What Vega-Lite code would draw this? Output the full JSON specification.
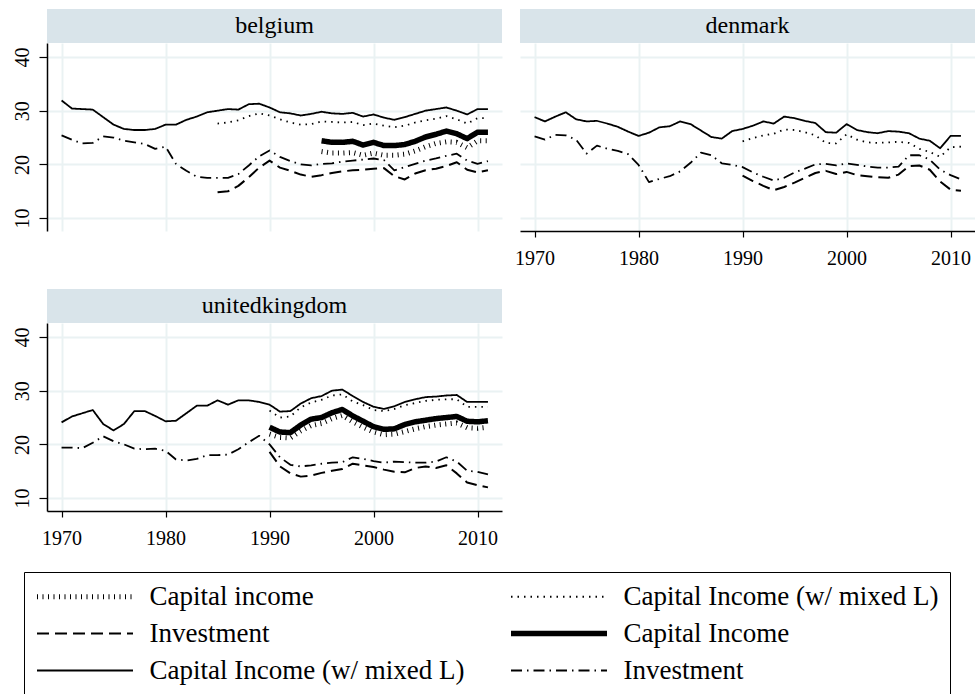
{
  "$schema": "https://vega.github.io/schema/vega-lite/v6.json",
  "background": "white",
  "padding": {"left": 11, "top": 8, "right": 0, "bottom": 0},
  "autosize": {"type": "pad"},
  "config": {
    "font": "Liberation Serif",
    "view": {"stroke": null},
    "axis": {"gridColor": "#eaf2f3", "gridWidth": 2, "labelColor": "black", "labelFont": "Liberation Serif", "labelFontSize": 20, "domainColor": "black", "domainWidth": 1.5, "tickColor": "black", "tickWidth": 1.2}
  },
  "datasets": {
    "lines": [
      {"c":"belgium","s":"s5","year":1970,"v":31.9},{"c":"belgium","s":"s5","year":1971,"v":30.4},{"c":"belgium","s":"s5","year":1972,"v":30.3},{"c":"belgium","s":"s5","year":1973,"v":30.2},{"c":"belgium","s":"s5","year":1974,"v":28.8},{"c":"belgium","s":"s5","year":1975,"v":27.4},{"c":"belgium","s":"s5","year":1976,"v":26.6},{"c":"belgium","s":"s5","year":1977,"v":26.4},{"c":"belgium","s":"s5","year":1978,"v":26.4},{"c":"belgium","s":"s5","year":1979,"v":26.6},
      {"c":"belgium","s":"s5","year":1980,"v":27.4},{"c":"belgium","s":"s5","year":1981,"v":27.4},{"c":"belgium","s":"s5","year":1982,"v":28.3},{"c":"belgium","s":"s5","year":1983,"v":28.9},{"c":"belgium","s":"s5","year":1984,"v":29.7},{"c":"belgium","s":"s5","year":1985,"v":30.0},{"c":"belgium","s":"s5","year":1986,"v":30.3},{"c":"belgium","s":"s5","year":1987,"v":30.2},{"c":"belgium","s":"s5","year":1988,"v":31.2},{"c":"belgium","s":"s5","year":1989,"v":31.3},
      {"c":"belgium","s":"s5","year":1990,"v":30.6},{"c":"belgium","s":"s5","year":1991,"v":29.7},{"c":"belgium","s":"s5","year":1992,"v":29.5},{"c":"belgium","s":"s5","year":1993,"v":29.1},{"c":"belgium","s":"s5","year":1994,"v":29.4},{"c":"belgium","s":"s5","year":1995,"v":29.8},{"c":"belgium","s":"s5","year":1996,"v":29.5},{"c":"belgium","s":"s5","year":1997,"v":29.4},{"c":"belgium","s":"s5","year":1998,"v":29.6},{"c":"belgium","s":"s5","year":1999,"v":28.9},
      {"c":"belgium","s":"s5","year":2000,"v":29.3},{"c":"belgium","s":"s5","year":2001,"v":28.7},{"c":"belgium","s":"s5","year":2002,"v":28.3},{"c":"belgium","s":"s5","year":2003,"v":28.8},{"c":"belgium","s":"s5","year":2004,"v":29.4},{"c":"belgium","s":"s5","year":2005,"v":30.0},{"c":"belgium","s":"s5","year":2006,"v":30.3},{"c":"belgium","s":"s5","year":2007,"v":30.6},{"c":"belgium","s":"s5","year":2008,"v":30.0},{"c":"belgium","s":"s5","year":2009,"v":29.3},
      {"c":"belgium","s":"s5","year":2010,"v":30.3},{"c":"belgium","s":"s5","year":2011,"v":30.3},

      {"c":"belgium","s":"s6","year":1970,"v":25.4},{"c":"belgium","s":"s6","year":1971,"v":24.6},{"c":"belgium","s":"s6","year":1972,"v":23.9},{"c":"belgium","s":"s6","year":1973,"v":24.0},{"c":"belgium","s":"s6","year":1974,"v":25.2},{"c":"belgium","s":"s6","year":1975,"v":25.0},{"c":"belgium","s":"s6","year":1976,"v":24.4},{"c":"belgium","s":"s6","year":1977,"v":24.1},{"c":"belgium","s":"s6","year":1978,"v":23.8},{"c":"belgium","s":"s6","year":1979,"v":22.9},
      {"c":"belgium","s":"s6","year":1980,"v":23.3},{"c":"belgium","s":"s6","year":1981,"v":20.1},{"c":"belgium","s":"s6","year":1982,"v":18.8},{"c":"belgium","s":"s6","year":1983,"v":17.7},{"c":"belgium","s":"s6","year":1984,"v":17.5},{"c":"belgium","s":"s6","year":1985,"v":17.5},{"c":"belgium","s":"s6","year":1986,"v":17.5},{"c":"belgium","s":"s6","year":1987,"v":18.2},{"c":"belgium","s":"s6","year":1988,"v":19.8},{"c":"belgium","s":"s6","year":1989,"v":21.5},
      {"c":"belgium","s":"s6","year":1990,"v":22.6},{"c":"belgium","s":"s6","year":1991,"v":21.4},{"c":"belgium","s":"s6","year":1992,"v":20.6},{"c":"belgium","s":"s6","year":1993,"v":20.0},{"c":"belgium","s":"s6","year":1994,"v":19.8},{"c":"belgium","s":"s6","year":1995,"v":20.1},{"c":"belgium","s":"s6","year":1996,"v":20.2},{"c":"belgium","s":"s6","year":1997,"v":20.5},{"c":"belgium","s":"s6","year":1998,"v":20.7},{"c":"belgium","s":"s6","year":1999,"v":20.9},
      {"c":"belgium","s":"s6","year":2000,"v":21.1},{"c":"belgium","s":"s6","year":2001,"v":20.8},{"c":"belgium","s":"s6","year":2002,"v":18.9},{"c":"belgium","s":"s6","year":2003,"v":19.5},{"c":"belgium","s":"s6","year":2004,"v":20.1},{"c":"belgium","s":"s6","year":2005,"v":20.7},{"c":"belgium","s":"s6","year":2006,"v":21.1},{"c":"belgium","s":"s6","year":2007,"v":21.6},{"c":"belgium","s":"s6","year":2008,"v":22.0},{"c":"belgium","s":"s6","year":2009,"v":20.7},
      {"c":"belgium","s":"s6","year":2010,"v":20.1},{"c":"belgium","s":"s6","year":2011,"v":20.6},

      {"c":"belgium","s":"s3","year":1985,"v":14.8},{"c":"belgium","s":"s3","year":1986,"v":15.0},{"c":"belgium","s":"s3","year":1987,"v":16.0},{"c":"belgium","s":"s3","year":1988,"v":17.6},{"c":"belgium","s":"s3","year":1989,"v":19.4},
      {"c":"belgium","s":"s3","year":1990,"v":20.7},{"c":"belgium","s":"s3","year":1991,"v":19.4},{"c":"belgium","s":"s3","year":1992,"v":18.8},{"c":"belgium","s":"s3","year":1993,"v":18.1},{"c":"belgium","s":"s3","year":1994,"v":17.7},{"c":"belgium","s":"s3","year":1995,"v":18.0},{"c":"belgium","s":"s3","year":1996,"v":18.4},{"c":"belgium","s":"s3","year":1997,"v":18.7},{"c":"belgium","s":"s3","year":1998,"v":18.9},{"c":"belgium","s":"s3","year":1999,"v":19.0},
      {"c":"belgium","s":"s3","year":2000,"v":19.2},{"c":"belgium","s":"s3","year":2001,"v":19.3},{"c":"belgium","s":"s3","year":2002,"v":17.8},{"c":"belgium","s":"s3","year":2003,"v":17.2},{"c":"belgium","s":"s3","year":2004,"v":18.3},{"c":"belgium","s":"s3","year":2005,"v":18.9},{"c":"belgium","s":"s3","year":2006,"v":19.2},{"c":"belgium","s":"s3","year":2007,"v":19.7},{"c":"belgium","s":"s3","year":2008,"v":20.4},{"c":"belgium","s":"s3","year":2009,"v":19.0},
      {"c":"belgium","s":"s3","year":2010,"v":18.5},{"c":"belgium","s":"s3","year":2011,"v":18.9},

      {"c":"belgium","s":"s2","year":1985,"v":27.6},{"c":"belgium","s":"s2","year":1986,"v":27.8},{"c":"belgium","s":"s2","year":1987,"v":28.2},{"c":"belgium","s":"s2","year":1988,"v":29.0},{"c":"belgium","s":"s2","year":1989,"v":29.5},
      {"c":"belgium","s":"s2","year":1990,"v":29.1},{"c":"belgium","s":"s2","year":1991,"v":28.4},{"c":"belgium","s":"s2","year":1992,"v":27.8},{"c":"belgium","s":"s2","year":1993,"v":27.4},{"c":"belgium","s":"s2","year":1994,"v":27.5},{"c":"belgium","s":"s2","year":1995,"v":28.0},{"c":"belgium","s":"s2","year":1996,"v":27.9},{"c":"belgium","s":"s2","year":1997,"v":27.8},{"c":"belgium","s":"s2","year":1998,"v":27.9},{"c":"belgium","s":"s2","year":1999,"v":27.3},
      {"c":"belgium","s":"s2","year":2000,"v":27.6},{"c":"belgium","s":"s2","year":2001,"v":27.2},{"c":"belgium","s":"s2","year":2002,"v":26.9},{"c":"belgium","s":"s2","year":2003,"v":27.2},{"c":"belgium","s":"s2","year":2004,"v":27.8},{"c":"belgium","s":"s2","year":2005,"v":28.2},{"c":"belgium","s":"s2","year":2006,"v":28.5},{"c":"belgium","s":"s2","year":2007,"v":29.0},{"c":"belgium","s":"s2","year":2008,"v":28.4},{"c":"belgium","s":"s2","year":2009,"v":27.6},
      {"c":"belgium","s":"s2","year":2010,"v":28.6},{"c":"belgium","s":"s2","year":2011,"v":28.6},

      {"c":"belgium","s":"s4","year":1995,"v":24.4},{"c":"belgium","s":"s4","year":1996,"v":24.1},{"c":"belgium","s":"s4","year":1997,"v":24.1},{"c":"belgium","s":"s4","year":1998,"v":24.3},{"c":"belgium","s":"s4","year":1999,"v":23.6},
      {"c":"belgium","s":"s4","year":2000,"v":24.1},{"c":"belgium","s":"s4","year":2001,"v":23.5},{"c":"belgium","s":"s4","year":2002,"v":23.5},{"c":"belgium","s":"s4","year":2003,"v":23.7},{"c":"belgium","s":"s4","year":2004,"v":24.3},{"c":"belgium","s":"s4","year":2005,"v":25.1},{"c":"belgium","s":"s4","year":2006,"v":25.6},{"c":"belgium","s":"s4","year":2007,"v":26.2},{"c":"belgium","s":"s4","year":2008,"v":25.7},{"c":"belgium","s":"s4","year":2009,"v":24.8},
      {"c":"belgium","s":"s4","year":2010,"v":26.0},{"c":"belgium","s":"s4","year":2011,"v":26.0},

      {"c":"belgium","s":"s1","year":1995,"v":22.4},{"c":"belgium","s":"s1","year":1996,"v":22.1},{"c":"belgium","s":"s1","year":1997,"v":22.1},{"c":"belgium","s":"s1","year":1998,"v":22.2},{"c":"belgium","s":"s1","year":1999,"v":21.7},
      {"c":"belgium","s":"s1","year":2000,"v":22.1},{"c":"belgium","s":"s1","year":2001,"v":21.7},{"c":"belgium","s":"s1","year":2002,"v":21.7},{"c":"belgium","s":"s1","year":2003,"v":21.9},{"c":"belgium","s":"s1","year":2004,"v":22.5},{"c":"belgium","s":"s1","year":2005,"v":23.3},{"c":"belgium","s":"s1","year":2006,"v":23.9},{"c":"belgium","s":"s1","year":2007,"v":24.2},{"c":"belgium","s":"s1","year":2008,"v":24.1},{"c":"belgium","s":"s1","year":2009,"v":23.1},
      {"c":"belgium","s":"s1","year":2010,"v":24.4},{"c":"belgium","s":"s1","year":2011,"v":24.4},

      {"c":"denmark","s":"s5","year":1970,"v":28.8},{"c":"denmark","s":"s5","year":1971,"v":28.0},{"c":"denmark","s":"s5","year":1972,"v":28.9},{"c":"denmark","s":"s5","year":1973,"v":29.7},{"c":"denmark","s":"s5","year":1974,"v":28.4},{"c":"denmark","s":"s5","year":1975,"v":28.0},{"c":"denmark","s":"s5","year":1976,"v":28.1},{"c":"denmark","s":"s5","year":1977,"v":27.6},{"c":"denmark","s":"s5","year":1978,"v":27.0},{"c":"denmark","s":"s5","year":1979,"v":26.1},
      {"c":"denmark","s":"s5","year":1980,"v":25.3},{"c":"denmark","s":"s5","year":1981,"v":25.9},{"c":"denmark","s":"s5","year":1982,"v":26.9},{"c":"denmark","s":"s5","year":1983,"v":27.1},{"c":"denmark","s":"s5","year":1984,"v":28.0},{"c":"denmark","s":"s5","year":1985,"v":27.5},{"c":"denmark","s":"s5","year":1986,"v":26.3},{"c":"denmark","s":"s5","year":1987,"v":25.1},{"c":"denmark","s":"s5","year":1988,"v":24.8},{"c":"denmark","s":"s5","year":1989,"v":26.2},
      {"c":"denmark","s":"s5","year":1990,"v":26.6},{"c":"denmark","s":"s5","year":1991,"v":27.2},{"c":"denmark","s":"s5","year":1992,"v":28.0},{"c":"denmark","s":"s5","year":1993,"v":27.6},{"c":"denmark","s":"s5","year":1994,"v":28.9},{"c":"denmark","s":"s5","year":1995,"v":28.6},{"c":"denmark","s":"s5","year":1996,"v":28.1},{"c":"denmark","s":"s5","year":1997,"v":27.7},{"c":"denmark","s":"s5","year":1998,"v":26.0},{"c":"denmark","s":"s5","year":1999,"v":25.9},
      {"c":"denmark","s":"s5","year":2000,"v":27.5},{"c":"denmark","s":"s5","year":2001,"v":26.4},{"c":"denmark","s":"s5","year":2002,"v":26.0},{"c":"denmark","s":"s5","year":2003,"v":25.8},{"c":"denmark","s":"s5","year":2004,"v":26.2},{"c":"denmark","s":"s5","year":2005,"v":26.1},{"c":"denmark","s":"s5","year":2006,"v":25.8},{"c":"denmark","s":"s5","year":2007,"v":24.8},{"c":"denmark","s":"s5","year":2008,"v":24.4},{"c":"denmark","s":"s5","year":2009,"v":23.0},
      {"c":"denmark","s":"s5","year":2010,"v":25.3},{"c":"denmark","s":"s5","year":2011,"v":25.3},

      {"c":"denmark","s":"s6","year":1970,"v":25.2},{"c":"denmark","s":"s6","year":1971,"v":24.6},{"c":"denmark","s":"s6","year":1972,"v":25.5},{"c":"denmark","s":"s6","year":1973,"v":25.4},{"c":"denmark","s":"s6","year":1974,"v":24.6},{"c":"denmark","s":"s6","year":1975,"v":22.0},{"c":"denmark","s":"s6","year":1976,"v":23.5},{"c":"denmark","s":"s6","year":1977,"v":22.9},{"c":"denmark","s":"s6","year":1978,"v":22.5},{"c":"denmark","s":"s6","year":1979,"v":21.9},
      {"c":"denmark","s":"s6","year":1980,"v":19.9},{"c":"denmark","s":"s6","year":1981,"v":16.7},{"c":"denmark","s":"s6","year":1982,"v":17.3},{"c":"denmark","s":"s6","year":1983,"v":17.8},{"c":"denmark","s":"s6","year":1984,"v":18.7},{"c":"denmark","s":"s6","year":1985,"v":20.3},{"c":"denmark","s":"s6","year":1986,"v":22.2},{"c":"denmark","s":"s6","year":1987,"v":21.7},{"c":"denmark","s":"s6","year":1988,"v":20.2},{"c":"denmark","s":"s6","year":1989,"v":19.9},
      {"c":"denmark","s":"s6","year":1990,"v":19.5},{"c":"denmark","s":"s6","year":1991,"v":18.5},{"c":"denmark","s":"s6","year":1992,"v":17.7},{"c":"denmark","s":"s6","year":1993,"v":17.0},{"c":"denmark","s":"s6","year":1994,"v":17.5},{"c":"denmark","s":"s6","year":1995,"v":18.5},{"c":"denmark","s":"s6","year":1996,"v":19.2},{"c":"denmark","s":"s6","year":1997,"v":20.0},{"c":"denmark","s":"s6","year":1998,"v":20.1},{"c":"denmark","s":"s6","year":1999,"v":19.8},
      {"c":"denmark","s":"s6","year":2000,"v":20.2},{"c":"denmark","s":"s6","year":2001,"v":19.9},{"c":"denmark","s":"s6","year":2002,"v":19.6},{"c":"denmark","s":"s6","year":2003,"v":19.4},{"c":"denmark","s":"s6","year":2004,"v":19.4},{"c":"denmark","s":"s6","year":2005,"v":19.6},{"c":"denmark","s":"s6","year":2006,"v":21.7},{"c":"denmark","s":"s6","year":2007,"v":21.7},{"c":"denmark","s":"s6","year":2008,"v":20.9},{"c":"denmark","s":"s6","year":2009,"v":19.0},
      {"c":"denmark","s":"s6","year":2010,"v":18.0},{"c":"denmark","s":"s6","year":2011,"v":17.2},

      {"c":"denmark","s":"s3","year":1990,"v":17.9},{"c":"denmark","s":"s3","year":1991,"v":16.9},{"c":"denmark","s":"s3","year":1992,"v":16.0},{"c":"denmark","s":"s3","year":1993,"v":15.2},{"c":"denmark","s":"s3","year":1994,"v":15.8},{"c":"denmark","s":"s3","year":1995,"v":16.6},{"c":"denmark","s":"s3","year":1996,"v":17.5},{"c":"denmark","s":"s3","year":1997,"v":18.4},{"c":"denmark","s":"s3","year":1998,"v":18.8},{"c":"denmark","s":"s3","year":1999,"v":18.2},
      {"c":"denmark","s":"s3","year":2000,"v":18.6},{"c":"denmark","s":"s3","year":2001,"v":18.0},{"c":"denmark","s":"s3","year":2002,"v":17.8},{"c":"denmark","s":"s3","year":2003,"v":17.6},{"c":"denmark","s":"s3","year":2004,"v":17.5},{"c":"denmark","s":"s3","year":2005,"v":18.1},{"c":"denmark","s":"s3","year":2006,"v":19.7},{"c":"denmark","s":"s3","year":2007,"v":19.8},{"c":"denmark","s":"s3","year":2008,"v":19.0},{"c":"denmark","s":"s3","year":2009,"v":16.8},
      {"c":"denmark","s":"s3","year":2010,"v":15.3},{"c":"denmark","s":"s3","year":2011,"v":15.1},

      {"c":"denmark","s":"s2","year":1990,"v":24.3},{"c":"denmark","s":"s2","year":1991,"v":24.9},{"c":"denmark","s":"s2","year":1992,"v":25.4},{"c":"denmark","s":"s2","year":1993,"v":25.7},{"c":"denmark","s":"s2","year":1994,"v":26.5},{"c":"denmark","s":"s2","year":1995,"v":26.4},{"c":"denmark","s":"s2","year":1996,"v":26.0},{"c":"denmark","s":"s2","year":1997,"v":25.4},{"c":"denmark","s":"s2","year":1998,"v":24.0},{"c":"denmark","s":"s2","year":1999,"v":23.9},
      {"c":"denmark","s":"s2","year":2000,"v":25.6},{"c":"denmark","s":"s2","year":2001,"v":24.6},{"c":"denmark","s":"s2","year":2002,"v":24.1},{"c":"denmark","s":"s2","year":2003,"v":24.0},{"c":"denmark","s":"s2","year":2004,"v":24.1},{"c":"denmark","s":"s2","year":2005,"v":24.2},{"c":"denmark","s":"s2","year":2006,"v":24.0},{"c":"denmark","s":"s2","year":2007,"v":22.9},{"c":"denmark","s":"s2","year":2008,"v":22.3},{"c":"denmark","s":"s2","year":2009,"v":21.4},
      {"c":"denmark","s":"s2","year":2010,"v":23.2},{"c":"denmark","s":"s2","year":2011,"v":23.3},

      {"c":"unitedkingdom","s":"s5","year":1970,"v":24.1},{"c":"unitedkingdom","s":"s5","year":1971,"v":25.2},{"c":"unitedkingdom","s":"s5","year":1972,"v":25.8},{"c":"unitedkingdom","s":"s5","year":1973,"v":26.4},{"c":"unitedkingdom","s":"s5","year":1974,"v":23.8},{"c":"unitedkingdom","s":"s5","year":1975,"v":22.6},{"c":"unitedkingdom","s":"s5","year":1976,"v":23.8},{"c":"unitedkingdom","s":"s5","year":1977,"v":26.2},{"c":"unitedkingdom","s":"s5","year":1978,"v":26.2},{"c":"unitedkingdom","s":"s5","year":1979,"v":25.3},
      {"c":"unitedkingdom","s":"s5","year":1980,"v":24.3},{"c":"unitedkingdom","s":"s5","year":1981,"v":24.4},{"c":"unitedkingdom","s":"s5","year":1982,"v":25.8},{"c":"unitedkingdom","s":"s5","year":1983,"v":27.2},{"c":"unitedkingdom","s":"s5","year":1984,"v":27.2},{"c":"unitedkingdom","s":"s5","year":1985,"v":28.2},{"c":"unitedkingdom","s":"s5","year":1986,"v":27.4},{"c":"unitedkingdom","s":"s5","year":1987,"v":28.2},{"c":"unitedkingdom","s":"s5","year":1988,"v":28.2},{"c":"unitedkingdom","s":"s5","year":1989,"v":27.9},
      {"c":"unitedkingdom","s":"s5","year":1990,"v":27.4},{"c":"unitedkingdom","s":"s5","year":1991,"v":26.1},{"c":"unitedkingdom","s":"s5","year":1992,"v":26.2},{"c":"unitedkingdom","s":"s5","year":1993,"v":27.6},{"c":"unitedkingdom","s":"s5","year":1994,"v":28.6},{"c":"unitedkingdom","s":"s5","year":1995,"v":29.0},{"c":"unitedkingdom","s":"s5","year":1996,"v":30.0},{"c":"unitedkingdom","s":"s5","year":1997,"v":30.2},{"c":"unitedkingdom","s":"s5","year":1998,"v":29.0},{"c":"unitedkingdom","s":"s5","year":1999,"v":27.9},
      {"c":"unitedkingdom","s":"s5","year":2000,"v":27.0},{"c":"unitedkingdom","s":"s5","year":2001,"v":26.6},{"c":"unitedkingdom","s":"s5","year":2002,"v":27.1},{"c":"unitedkingdom","s":"s5","year":2003,"v":27.9},{"c":"unitedkingdom","s":"s5","year":2004,"v":28.4},{"c":"unitedkingdom","s":"s5","year":2005,"v":28.8},{"c":"unitedkingdom","s":"s5","year":2006,"v":28.9},{"c":"unitedkingdom","s":"s5","year":2007,"v":29.1},{"c":"unitedkingdom","s":"s5","year":2008,"v":29.2},{"c":"unitedkingdom","s":"s5","year":2009,"v":27.9},
      {"c":"unitedkingdom","s":"s5","year":2010,"v":27.9},{"c":"unitedkingdom","s":"s5","year":2011,"v":27.9},

      {"c":"unitedkingdom","s":"s6","year":1970,"v":19.4},{"c":"unitedkingdom","s":"s6","year":1971,"v":19.4},{"c":"unitedkingdom","s":"s6","year":1972,"v":19.3},{"c":"unitedkingdom","s":"s6","year":1973,"v":20.3},{"c":"unitedkingdom","s":"s6","year":1974,"v":21.5},{"c":"unitedkingdom","s":"s6","year":1975,"v":20.6},{"c":"unitedkingdom","s":"s6","year":1976,"v":20.0},{"c":"unitedkingdom","s":"s6","year":1977,"v":19.2},{"c":"unitedkingdom","s":"s6","year":1978,"v":19.1},{"c":"unitedkingdom","s":"s6","year":1979,"v":19.2},
      {"c":"unitedkingdom","s":"s6","year":1980,"v":18.8},{"c":"unitedkingdom","s":"s6","year":1981,"v":17.2},{"c":"unitedkingdom","s":"s6","year":1982,"v":17.0},{"c":"unitedkingdom","s":"s6","year":1983,"v":17.3},{"c":"unitedkingdom","s":"s6","year":1984,"v":18.0},{"c":"unitedkingdom","s":"s6","year":1985,"v":18.0},{"c":"unitedkingdom","s":"s6","year":1986,"v":18.1},{"c":"unitedkingdom","s":"s6","year":1987,"v":19.1},{"c":"unitedkingdom","s":"s6","year":1988,"v":20.4},{"c":"unitedkingdom","s":"s6","year":1989,"v":21.6},
      {"c":"unitedkingdom","s":"s6","year":1990,"v":20.0},{"c":"unitedkingdom","s":"s6","year":1991,"v":17.6},{"c":"unitedkingdom","s":"s6","year":1992,"v":16.2},{"c":"unitedkingdom","s":"s6","year":1993,"v":15.9},{"c":"unitedkingdom","s":"s6","year":1994,"v":16.1},{"c":"unitedkingdom","s":"s6","year":1995,"v":16.4},{"c":"unitedkingdom","s":"s6","year":1996,"v":16.6},{"c":"unitedkingdom","s":"s6","year":1997,"v":16.7},{"c":"unitedkingdom","s":"s6","year":1998,"v":17.6},{"c":"unitedkingdom","s":"s6","year":1999,"v":17.3},
      {"c":"unitedkingdom","s":"s6","year":2000,"v":16.9},{"c":"unitedkingdom","s":"s6","year":2001,"v":16.6},{"c":"unitedkingdom","s":"s6","year":2002,"v":16.8},{"c":"unitedkingdom","s":"s6","year":2003,"v":16.7},{"c":"unitedkingdom","s":"s6","year":2004,"v":16.6},{"c":"unitedkingdom","s":"s6","year":2005,"v":16.6},{"c":"unitedkingdom","s":"s6","year":2006,"v":16.8},{"c":"unitedkingdom","s":"s6","year":2007,"v":17.6},{"c":"unitedkingdom","s":"s6","year":2008,"v":16.8},{"c":"unitedkingdom","s":"s6","year":2009,"v":15.1},
      {"c":"unitedkingdom","s":"s6","year":2010,"v":14.9},{"c":"unitedkingdom","s":"s6","year":2011,"v":14.4},

      {"c":"unitedkingdom","s":"s3","year":1990,"v":18.6},{"c":"unitedkingdom","s":"s3","year":1991,"v":15.9},{"c":"unitedkingdom","s":"s3","year":1992,"v":14.6},{"c":"unitedkingdom","s":"s3","year":1993,"v":14.0},{"c":"unitedkingdom","s":"s3","year":1994,"v":14.2},{"c":"unitedkingdom","s":"s3","year":1995,"v":14.7},{"c":"unitedkingdom","s":"s3","year":1996,"v":15.1},{"c":"unitedkingdom","s":"s3","year":1997,"v":15.4},{"c":"unitedkingdom","s":"s3","year":1998,"v":16.4},{"c":"unitedkingdom","s":"s3","year":1999,"v":16.1},
      {"c":"unitedkingdom","s":"s3","year":2000,"v":15.8},{"c":"unitedkingdom","s":"s3","year":2001,"v":15.3},{"c":"unitedkingdom","s":"s3","year":2002,"v":14.9},{"c":"unitedkingdom","s":"s3","year":2003,"v":14.8},{"c":"unitedkingdom","s":"s3","year":2004,"v":15.6},{"c":"unitedkingdom","s":"s3","year":2005,"v":15.9},{"c":"unitedkingdom","s":"s3","year":2006,"v":15.6},{"c":"unitedkingdom","s":"s3","year":2007,"v":16.1},{"c":"unitedkingdom","s":"s3","year":2008,"v":14.6},{"c":"unitedkingdom","s":"s3","year":2009,"v":12.9},
      {"c":"unitedkingdom","s":"s3","year":2010,"v":12.4},{"c":"unitedkingdom","s":"s3","year":2011,"v":12.0},

      {"c":"unitedkingdom","s":"s2","year":1990,"v":26.3},{"c":"unitedkingdom","s":"s2","year":1991,"v":25.0},{"c":"unitedkingdom","s":"s2","year":1992,"v":25.2},{"c":"unitedkingdom","s":"s2","year":1993,"v":26.9},{"c":"unitedkingdom","s":"s2","year":1994,"v":27.8},{"c":"unitedkingdom","s":"s2","year":1995,"v":28.3},{"c":"unitedkingdom","s":"s2","year":1996,"v":29.1},{"c":"unitedkingdom","s":"s2","year":1997,"v":29.3},{"c":"unitedkingdom","s":"s2","year":1998,"v":28.0},{"c":"unitedkingdom","s":"s2","year":1999,"v":27.3},
      {"c":"unitedkingdom","s":"s2","year":2000,"v":26.4},{"c":"unitedkingdom","s":"s2","year":2001,"v":26.2},{"c":"unitedkingdom","s":"s2","year":2002,"v":26.6},{"c":"unitedkingdom","s":"s2","year":2003,"v":27.3},{"c":"unitedkingdom","s":"s2","year":2004,"v":27.7},{"c":"unitedkingdom","s":"s2","year":2005,"v":28.1},{"c":"unitedkingdom","s":"s2","year":2006,"v":28.3},{"c":"unitedkingdom","s":"s2","year":2007,"v":28.4},{"c":"unitedkingdom","s":"s2","year":2008,"v":28.4},{"c":"unitedkingdom","s":"s2","year":2009,"v":27.0},
      {"c":"unitedkingdom","s":"s2","year":2010,"v":27.0},{"c":"unitedkingdom","s":"s2","year":2011,"v":27.0},

      {"c":"unitedkingdom","s":"s4","year":1990,"v":23.2},{"c":"unitedkingdom","s":"s4","year":1991,"v":22.3},{"c":"unitedkingdom","s":"s4","year":1992,"v":22.2},{"c":"unitedkingdom","s":"s4","year":1993,"v":23.6},{"c":"unitedkingdom","s":"s4","year":1994,"v":24.7},{"c":"unitedkingdom","s":"s4","year":1995,"v":25.0},{"c":"unitedkingdom","s":"s4","year":1996,"v":25.9},{"c":"unitedkingdom","s":"s4","year":1997,"v":26.5},{"c":"unitedkingdom","s":"s4","year":1998,"v":25.3},{"c":"unitedkingdom","s":"s4","year":1999,"v":24.3},
      {"c":"unitedkingdom","s":"s4","year":2000,"v":23.3},{"c":"unitedkingdom","s":"s4","year":2001,"v":22.8},{"c":"unitedkingdom","s":"s4","year":2002,"v":22.9},{"c":"unitedkingdom","s":"s4","year":2003,"v":23.7},{"c":"unitedkingdom","s":"s4","year":2004,"v":24.2},{"c":"unitedkingdom","s":"s4","year":2005,"v":24.5},{"c":"unitedkingdom","s":"s4","year":2006,"v":24.8},{"c":"unitedkingdom","s":"s4","year":2007,"v":25.0},{"c":"unitedkingdom","s":"s4","year":2008,"v":25.2},{"c":"unitedkingdom","s":"s4","year":2009,"v":24.3},
      {"c":"unitedkingdom","s":"s4","year":2010,"v":24.2},{"c":"unitedkingdom","s":"s4","year":2011,"v":24.4},

      {"c":"unitedkingdom","s":"s1","year":1990,"v":21.9},{"c":"unitedkingdom","s":"s1","year":1991,"v":21.3},{"c":"unitedkingdom","s":"s1","year":1992,"v":21.2},{"c":"unitedkingdom","s":"s1","year":1993,"v":22.5},{"c":"unitedkingdom","s":"s1","year":1994,"v":23.5},{"c":"unitedkingdom","s":"s1","year":1995,"v":23.9},{"c":"unitedkingdom","s":"s1","year":1996,"v":24.8},{"c":"unitedkingdom","s":"s1","year":1997,"v":25.4},{"c":"unitedkingdom","s":"s1","year":1998,"v":24.2},{"c":"unitedkingdom","s":"s1","year":1999,"v":23.2},
      {"c":"unitedkingdom","s":"s1","year":2000,"v":22.3},{"c":"unitedkingdom","s":"s1","year":2001,"v":21.8},{"c":"unitedkingdom","s":"s1","year":2002,"v":21.9},{"c":"unitedkingdom","s":"s1","year":2003,"v":22.4},{"c":"unitedkingdom","s":"s1","year":2004,"v":22.9},{"c":"unitedkingdom","s":"s1","year":2005,"v":23.3},{"c":"unitedkingdom","s":"s1","year":2006,"v":23.6},{"c":"unitedkingdom","s":"s1","year":2007,"v":23.8},{"c":"unitedkingdom","s":"s1","year":2008,"v":24.0},{"c":"unitedkingdom","s":"s1","year":2009,"v":23.1},
      {"c":"unitedkingdom","s":"s1","year":2010,"v":23.0},{"c":"unitedkingdom","s":"s1","year":2011,"v":23.2}
    ]
  },
  "spacing": 20,
  "vconcat": [
    {
      "spacing": 12,
      "hconcat": [
        {
          "width": 455, "height": 188,
          "layer": [
            {
              "data": {"name": "lines"},
              "transform": [{"filter": "datum.c === 'belgium'"}],
              "mark": {"type": "line", "color": "black", "strokeCap": "butt", "strokeJoin": "round"},
              "encoding": {
                "x": {"field": "year", "type": "quantitative", "scale": {"domain": [1968.6, 2012.35], "nice": false, "zero": false}, "axis": {"title": null, "values": [1970, 1980, 1990, 2000, 2010], "grid": true, "labels": false, "ticks": false, "domain": false}},
                "y": {"field": "v", "type": "quantitative", "scale": {"domain": [7.6, 42.6], "nice": false, "zero": false}, "axis": {"title": null, "values": [10, 20, 30, 40], "grid": true, "tickSize": 8, "labelAngle": -90, "labelAlign": "center", "labelBaseline": "alphabetic", "labelPadding": 11}},
                "strokeDash": {"field": "s", "type": "nominal", "scale": {"domain": ["s1", "s3", "s5", "s2", "s4", "s6"], "range": [[1, 4.5], [12, 6], [1, 0], [1.5, 5], [1, 0], [11, 5, 1.5, 5]]},
                  "legend": {"orient": "none", "legendX": -23, "legendY": 529, "columns": 2, "title": null, "rowPadding": 9, "columnPadding": 35, "symbolType": "stroke", "symbolSize": 9216, "symbolStrokeColor": "black", "symbolOffset": 36.5, "labelFont": "Liberation Serif", "labelFontSize": 27, "labelColor": "black", "labelOffset": 51, "labelLimit": 600, "strokeColor": "black", "padding": 11,
                    "labelExpr": "datum.value === 's1' ? 'Capital income' : datum.value === 's2' ? 'Capital Income (w/ mixed L)' : datum.value === 's3' ? 'Investment' : datum.value === 's4' ? 'Capital Income' : datum.value === 's5' ? 'Capital Income (w/ mixed L)' : 'Investment'",
                    "encode": {"symbols": {"update": {"strokeWidth": {"signal": "datum.value === 's4' ? 5.5 : datum.value === 's1' ? 5 : datum.value === 's3' ? 2 : 1.8"}}}}}},
                "strokeWidth": {"condition": [{"test": "datum.s === 's4'", "value": 5.5}, {"test": "datum.s === 's1'", "value": 5}, {"test": "datum.s === 's3'", "value": 2}], "value": 1.8}
              }
            },
            {
              "data": {"values": [{"label": "belgium"}]},
              "mark": {"type": "rect", "fill": "#d9e4ea"},
              "encoding": {"x": {"datum": 1968.6, "type": "quantitative"}, "x2": {"datum": 2012.35}, "y": {"datum": 42.6, "type": "quantitative"}, "y2": {"datum": 48.93}}
            },
            {
              "data": {"values": [{"label": "belgium"}]},
              "mark": {"type": "text", "font": "Liberation Serif", "fontSize": 24, "color": "black", "baseline": "middle", "align": "center"},
              "encoding": {"x": {"datum": 1990.475, "type": "quantitative"}, "y": {"datum": 45.77, "type": "quantitative"}, "text": {"field": "label"}}
            }
          ]
        },
        {
          "width": 455, "height": 188,
          "layer": [
            {
              "data": {"name": "lines"},
              "transform": [{"filter": "datum.c === 'denmark'"}],
              "mark": {"type": "line", "color": "black", "strokeCap": "butt", "strokeJoin": "round"},
              "encoding": {
                "x": {"field": "year", "type": "quantitative", "scale": {"domain": [1968.6, 2012.35], "nice": false, "zero": false}, "axis": {"title": null, "values": [1970, 1980, 1990, 2000, 2010], "format": "d", "grid": true, "tickSize": 6, "labelPadding": 11}},
                "y": {"field": "v", "type": "quantitative", "scale": {"domain": [7.6, 42.6], "nice": false, "zero": false}, "axis": {"title": null, "values": [10, 20, 30, 40], "grid": true, "labels": false, "ticks": false, "domain": false}},
                "strokeDash": {"field": "s", "type": "nominal", "scale": {"domain": ["s1", "s3", "s5", "s2", "s4", "s6"], "range": [[1, 4.5], [12, 6], [1, 0], [1.5, 5], [1, 0], [11, 5, 1.5, 5]]}},
                "strokeWidth": {"condition": [{"test": "datum.s === 's4'", "value": 5.5}, {"test": "datum.s === 's1'", "value": 5}, {"test": "datum.s === 's3'", "value": 2}], "value": 1.8}
              }
            },
            {
              "data": {"values": [{"label": "denmark"}]},
              "mark": {"type": "rect", "fill": "#d9e4ea"},
              "encoding": {"x": {"datum": 1968.6, "type": "quantitative"}, "x2": {"datum": 2012.35}, "y": {"datum": 42.6, "type": "quantitative"}, "y2": {"datum": 48.93}}
            },
            {
              "data": {"values": [{"label": "denmark"}]},
              "mark": {"type": "text", "font": "Liberation Serif", "fontSize": 24, "color": "black", "baseline": "middle", "align": "center"},
              "encoding": {"x": {"datum": 1990.475, "type": "quantitative"}, "y": {"datum": 45.77, "type": "quantitative"}, "text": {"field": "label"}}
            }
          ]
        }
      ]
    },
    {
      "width": 455, "height": 188,
      "layer": [
        {
          "data": {"name": "lines"},
          "transform": [{"filter": "datum.c === 'unitedkingdom'"}],
          "mark": {"type": "line", "color": "black", "strokeCap": "butt", "strokeJoin": "round"},
          "encoding": {
            "x": {"field": "year", "type": "quantitative", "scale": {"domain": [1968.6, 2012.35], "nice": false, "zero": false}, "axis": {"title": null, "values": [1970, 1980, 1990, 2000, 2010], "format": "d", "grid": true, "tickSize": 6, "labelPadding": 11}},
            "y": {"field": "v", "type": "quantitative", "scale": {"domain": [7.6, 42.6], "nice": false, "zero": false}, "axis": {"title": null, "values": [10, 20, 30, 40], "grid": true, "tickSize": 8, "labelAngle": -90, "labelAlign": "center", "labelBaseline": "alphabetic", "labelPadding": 11}},
            "strokeDash": {"field": "s", "type": "nominal", "scale": {"domain": ["s1", "s3", "s5", "s2", "s4", "s6"], "range": [[1, 4.5], [12, 6], [1, 0], [1.5, 5], [1, 0], [11, 5, 1.5, 5]]}},
            "strokeWidth": {"condition": [{"test": "datum.s === 's4'", "value": 5.5}, {"test": "datum.s === 's1'", "value": 5}, {"test": "datum.s === 's3'", "value": 2}], "value": 1.8}
          }
        },
        {
          "data": {"values": [{"label": "unitedkingdom"}]},
          "mark": {"type": "rect", "fill": "#d9e4ea"},
          "encoding": {"x": {"datum": 1968.6, "type": "quantitative"}, "x2": {"datum": 2012.35}, "y": {"datum": 42.6, "type": "quantitative"}, "y2": {"datum": 48.93}}
        },
        {
          "data": {"values": [{"label": "unitedkingdom"}]},
          "mark": {"type": "text", "font": "Liberation Serif", "fontSize": 24, "color": "black", "baseline": "middle", "align": "center"},
          "encoding": {"x": {"datum": 1990.475, "type": "quantitative"}, "y": {"datum": 45.77, "type": "quantitative"}, "text": {"field": "label"}}
        }
      ]
    }
  ]
}
